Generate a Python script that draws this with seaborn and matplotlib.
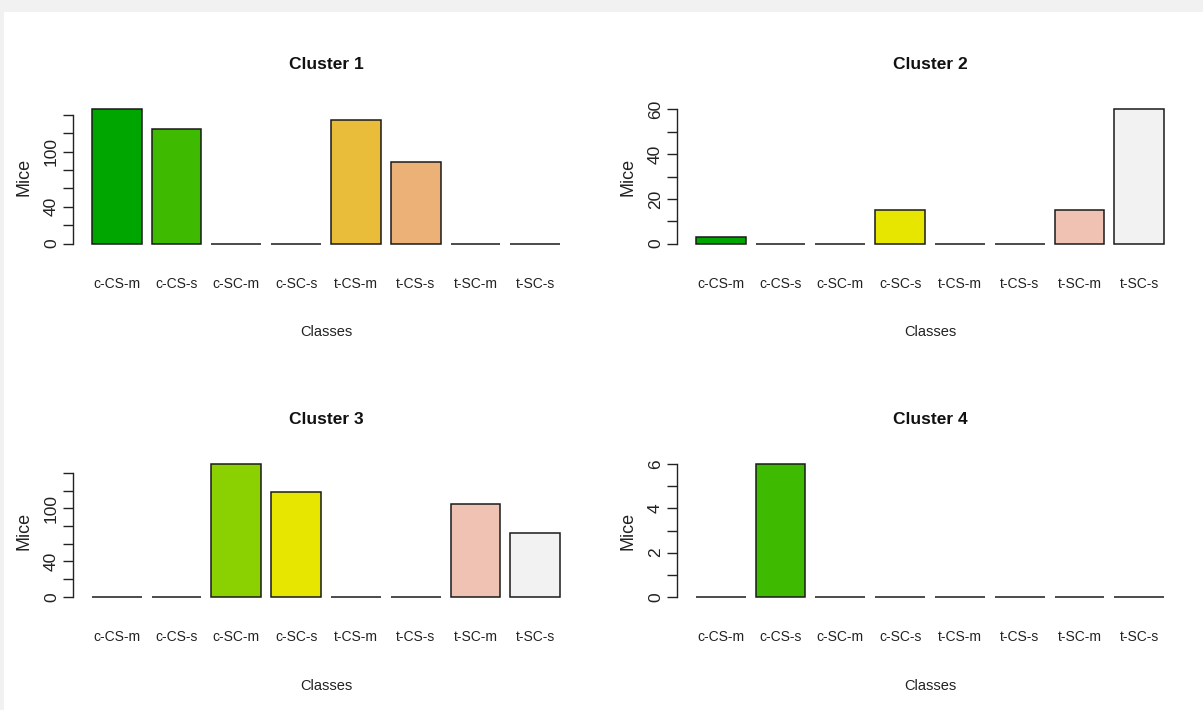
import matplotlib
matplotlib.use("Agg")
import matplotlib.pyplot as plt
from matplotlib.patches import Rectangle
import pandas as pd
import seaborn as sns

classes = ["c-CS-m", "c-CS-s", "c-SC-m", "c-SC-s", "t-CS-m", "t-CS-s", "t-SC-m", "t-SC-s"]
cluster1 = [146, 125, 0, 0, 134, 89, 0, 0]
cluster2 = [3, 0, 0, 15, 0, 0, 15, 60]
cluster3 = [0, 0, 150, 119, 0, 0, 105, 72]
cluster4 = [0, 6, 0, 0, 0, 0, 0, 0]
titles = ["Cluster 1", "Cluster 2", "Cluster 3", "Cluster 4"]

# R terrain.colors(8)
palette = ["#00A600", "#3EBB00", "#8BD000", "#E6E600",
           "#E9BD3A", "#ECB176", "#EFC2B3", "#F2F2F2"]

# (tick step, labelled ticks, axis max)
axis_specs = [
    (20, [0, 40, 100], 140),
    (10, [0, 20, 40, 60], 60),
    (20, [0, 40, 100], 140),
    (1, [0, 2, 4, 6], 6),
]

sns.set_style("white")
narrow = ["Liberation Sans Narrow", "Liberation Sans", "DejaVu Sans"]
regular = ["Liberation Sans", "DejaVu Sans"]

fig = plt.figure(figsize=(12.03, 7.10), dpi=100, facecolor="#f1f1f1")
fig.patches.append(Rectangle((4 / 1203, 0), 1, 1 - 12 / 710, transform=fig.transFigure,
                             facecolor="white", edgecolor="none", zorder=-5))

W, H = 1203, 710
boxes = [
    (73, 104, 506, 145),
    (677, 104, 506, 145),
    (73, 459, 506, 143),
    (677, 459, 506, 143),
]

for values, title, spec, (x0, y0, w, h) in zip(
        [cluster1, cluster2, cluster3, cluster4], titles, axis_specs, boxes):
    ax = fig.add_axes([x0 / W, 1 - (y0 + h) / H, w / W, h / H])
    ax.set_zorder(2)
    ax.set_facecolor("none")
    df = pd.DataFrame({"Classes": classes, "Mice": values})
    sns.barplot(data=df, x="Classes", y="Mice", hue="Classes", palette=palette,
                order=classes, hue_order=classes, dodge=False, legend=False,
                width=1 / 1.2, edgecolor="#1a1a1a", linewidth=1.1, ax=ax,
                saturation=1)
    step, labelled, top = spec
    vmax = max(values)
    ax.set_xlim(-0.73, 7.73)
    ax.set_ylim(-0.04 * vmax, 1.04 * vmax)
    ticks = list(range(0, top + 1, step))
    ax.set_yticks(ticks)
    ax.set_yticklabels([str(t) if t in labelled else "" for t in ticks],
                       rotation=90, va="center", family=regular, fontsize=12.5)
    ax.tick_params(axis="y", left=True, length=7, width=1, color="#222222",
                   pad=3, labelcolor="#222222")
    ax.tick_params(axis="x", bottom=False, length=0, pad=20)
    for lab in ax.get_xticklabels():
        lab.set_family(narrow)
        lab.set_fontsize(10)
        lab.set_color("#222222")
    for side in ["top", "right", "bottom"]:
        ax.spines[side].set_visible(False)
    ax.spines["left"].set_bounds(0, top)
    ax.spines["left"].set_color("#222222")
    ax.spines["left"].set_linewidth(1)
    ax.set_xlabel("Classes", family=narrow, fontsize=10.5, labelpad=25, color="#222222")
    ax.set_ylabel("Mice", family=regular, fontsize=13, labelpad=8, color="#222222")
    ax.set_title(title, family=narrow, fontweight="bold", fontsize=12.5, pad=25,
                 color="#111111")

fig.savefig("out.png", dpi=100, facecolor=fig.get_facecolor())
